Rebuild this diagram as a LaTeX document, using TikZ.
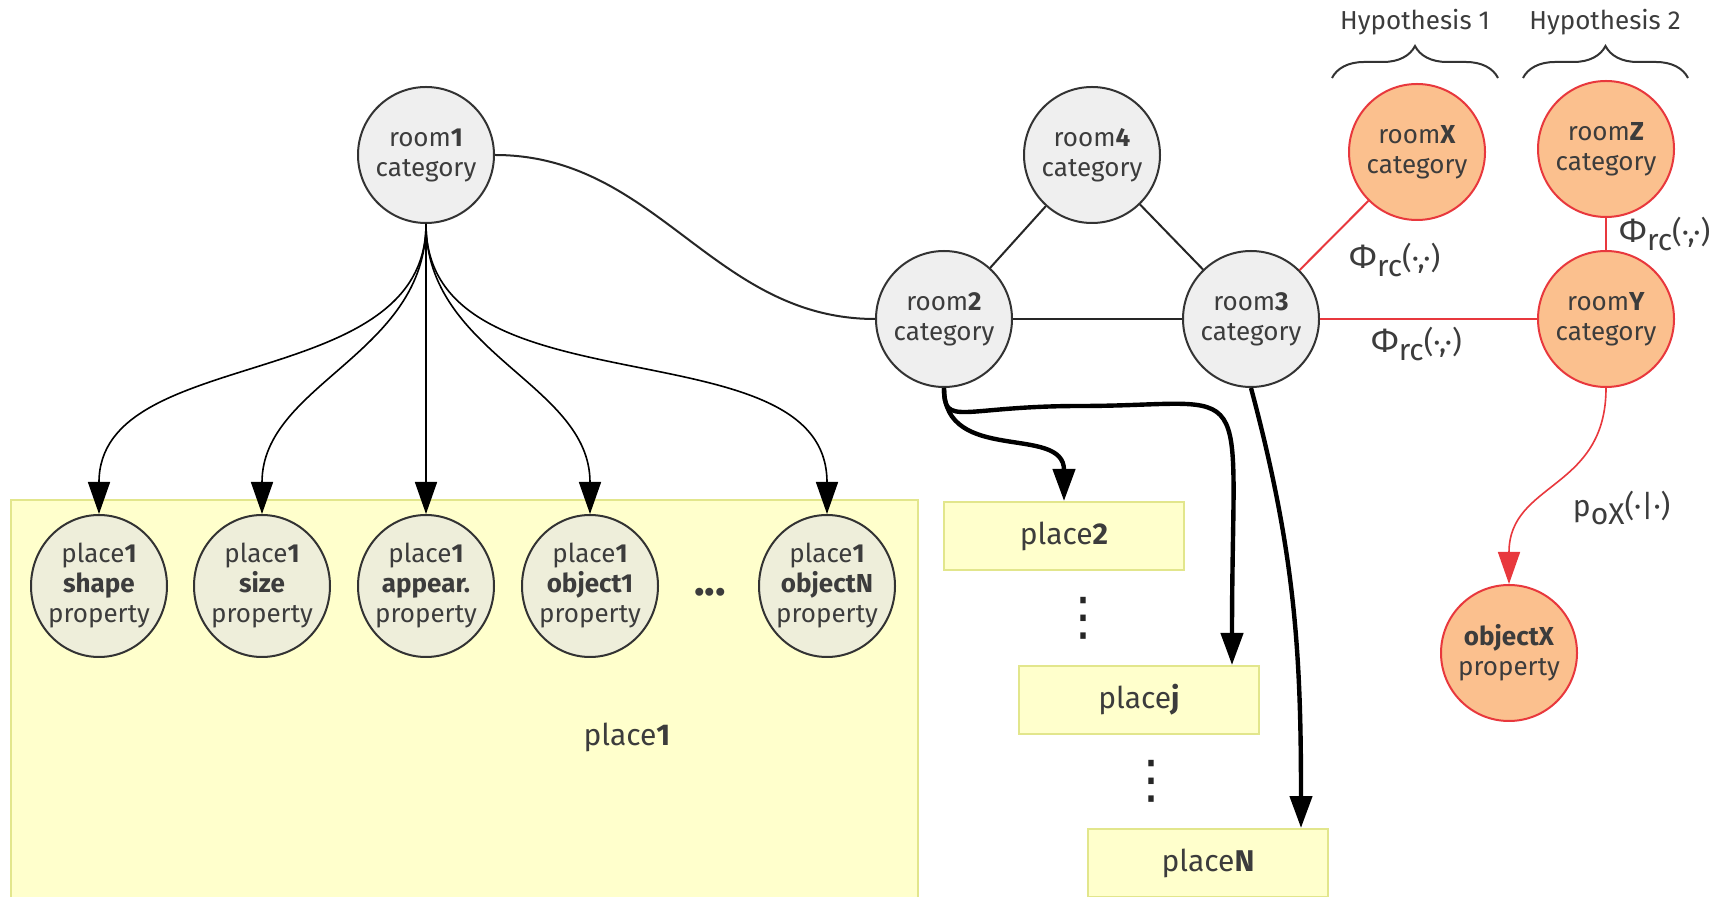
\documentclass[tikz,border=0pt]{standalone}
\usepackage{fontspec}
\setmainfont{Fira Sans}
\newfontfamily\symfont{DejaVu Sans}
\usetikzlibrary{shapes.geometric,arrows.meta,decorations.pathreplacing}
\definecolor{txtgray}{HTML}{3C3C3C}
\definecolor{roomfill}{HTML}{EFEFEF}
\definecolor{propfill}{HTML}{EEEEDA}
\definecolor{hypfill}{HTML}{FBC08E}
\definecolor{hypred}{HTML}{E8383D}
\definecolor{boxfill}{HTML}{FFFFCC}
\definecolor{boxline}{HTML}{E2E68C}
\newcommand{\phirc}{{\fontsize{17}{17}\selectfont Φ}\raisebox{-4pt}{rc}(·,·)}
\newcommand{\pox}{p\raisebox{-4pt}{oX}(·|·)}
\tikzset{
  room/.style={ellipse, draw=black!80, fill=roomfill, line width=1pt,
    minimum width=68pt, minimum height=68pt, inner sep=-8pt, align=center,
    text=txtgray, font=\fontsize{13}{15}\selectfont},
  prop/.style={room, fill=propfill, minimum height=71pt},
  hyp/.style={room, draw=hypred, fill=hypfill},
  placebox/.style={rectangle, draw=boxline, fill=boxfill, line width=1pt,
    minimum width=120pt, minimum height=34pt, text=txtgray,
    font=\fontsize{15}{18}\selectfont},
  bigbox/.style={draw=boxline, fill=boxfill, line width=1pt},
  lbl/.style={text=txtgray, font=\fontsize{15}{18}\selectfont},
  vdotsnode/.style={text=black!85, font=\symfont\fontsize{26}{26}\selectfont, inner sep=0pt},
  link/.style={line width=1pt, black!85},
  redlink/.style={line width=1pt, hypred},
  fan/.style={line width=0.8pt, -{Triangle[length=16pt,width=11pt]}},
  thickfan/.style={fan, line width=2.2pt},
  hypbrace/.style={decorate, decoration={brace, amplitude=16pt}, line width=1pt, black!80}
}
\begin{document}
\begin{tikzpicture}[x=0.5pt,y=-0.5pt]
\useasboundingbox (0,0) rectangle (1725,897);
\fill[white] (0,0) rectangle (1725,897);

\draw[bigbox] (11,500) rectangle (918,905);
\node[lbl] (place1) at (627,737) {place\textbf{1}};

\node[room] (room1) at (426,155) {room\textbf{1}\\category};
\node[room] (room4) at (1092,155) {room\textbf{4}\\category};
\node[room] (room2) at (944,319) {room\textbf{2}\\category};
\node[room] (room3) at (1251,319) {room\textbf{3}\\category};
\node[hyp] (roomX) at (1417,152) {room\textbf{X}\\category};
\node[hyp] (roomZ) at (1606,149) {room\textbf{Z}\\category};
\node[hyp] (roomY) at (1606,319) {room\textbf{Y}\\category};
\node[hyp] (objX) at (1509,653) {\textbf{objectX}\\property};

\node[prop] (pshape) at (99,586) {place\textbf{1}\\\textbf{shape}\\property};
\node[prop] (psize) at (262,586) {place\textbf{1}\\\textbf{size}\\property};
\node[prop] (pappear) at (426,586) {place\textbf{1}\\\textbf{appear.}\\property};
\node[prop] (pobj1) at (590,586) {place\textbf{1}\\\textbf{object1}\\property};
\node[prop] (pobjN) at (827,586) {place\textbf{1}\\\textbf{objectN}\\property};
\node[lbl, font=\bfseries\fontsize{22}{22}\selectfont] (hdots) at (710,592) {...};

\node[placebox] (place2) at (1064,536) {place\textbf{2}};
\node[placebox] (placej) at (1139,700) {place\textbf{j}};
\node[placebox] (placeN) at (1208,863) {place\textbf{N}};
\node[vdotsnode] (vdots1) at (1083,618) {⋮};
\node[vdotsnode] (vdots2) at (1151,781) {⋮};

\node[lbl, font=\fontsize{13}{15}\selectfont] (hyp1) at (1415,22) {Hypothesis 1};
\node[lbl, font=\fontsize{13}{15}\selectfont] (hyp2) at (1605,22) {Hypothesis 2};
\draw[hypbrace] (1332,78) -- (1498,78);
\draw[hypbrace] (1523,78) -- (1688,78);

\draw[link] (room1.east) to[out=0,in=180] (room2.west);
\draw[link] (room4) -- (room2);
\draw[link] (room4) -- (room3);
\draw[link] (room2) -- (room3);
\draw[redlink] (room3) -- (roomX) node[midway, anchor=north west, lbl, xshift=4pt] {\phirc};
\draw[redlink] (room3) -- (roomY) node[midway, below, lbl, xshift=-6pt] {\phirc};
\draw[redlink] (roomZ) -- (roomY) node[midway, right, lbl, xshift=3pt] {\phirc};
\draw[fan, hypred] (roomY.south) to[out=-90,in=90,looseness=1.2]
  node[pos=0.5, anchor=west, lbl, xshift=4pt, yshift=-11pt] {\pox} (objX.north);

\draw[fan] (room1.south) to[out=-90,in=90] (pshape.north);
\draw[fan] (room1.south) to[out=-90,in=90] (psize.north);
\draw[fan] (room1.south) -- (pappear.north);
\draw[fan] (room1.south) to[out=-90,in=90] (pobj1.north);
\draw[fan] (room1.south) to[out=-90,in=90] (pobjN.north);

\draw[thickfan] (room2.south) to[out=-90,in=90,looseness=1.2] (place2.north);
\draw[thickfan] (room2.south) to[out=-90,in=180,out distance=20,in distance=60] (1080,406)
  to[out=0,in=90,out distance=90,in distance=150] ([xshift=46.5pt]placej.north);
\draw[thickfan] (room3.south) to[out=-75,in=90] ([xshift=46.5pt]placeN.north);
\end{tikzpicture}
\end{document}
